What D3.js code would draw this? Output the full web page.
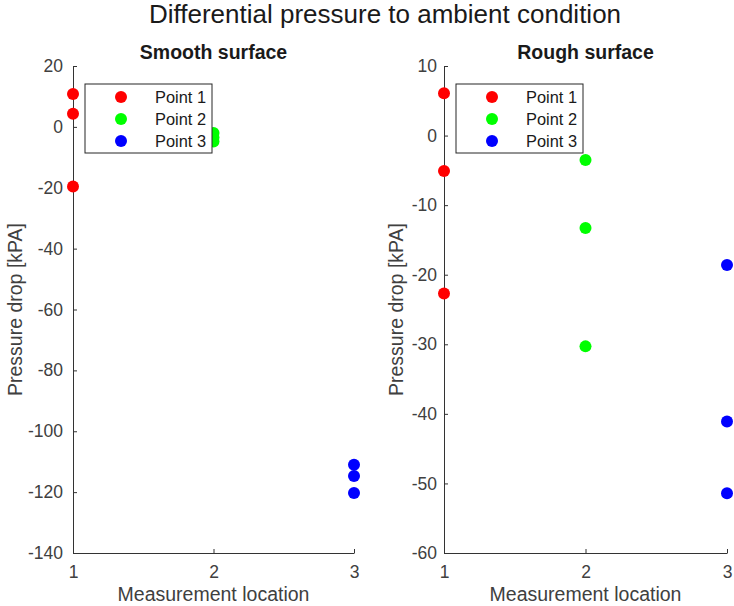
<!DOCTYPE html>
<html>
<head>
<meta charset="utf-8">
<script src="https://cdn.jsdelivr.net/npm/d3@7"></script>
<style>
  body { margin: 0; background: #fff; }
  svg { font-family: "Liberation Sans", Arial, sans-serif; }
  .tick text { fill: #404040; font-size: 17.5px; }
  .domain, .tick line { stroke: #333; }
</style>
</head>
<body>
<svg width="734" height="606"></svg>
<script>
// measurement locations and series
const locations = [1, 2, 3];
const seriesNames = ['Point 1', 'Point 2', 'Point 3'];
const seriesColors = ['#ff0000', '#00ff00', '#0000ff'];

// values, per series (location = series index + 1)
const smoothP1 = [10.8, 4.3, -19.6];
const smoothP2 = [-2.0, -3.5, -4.8];
const smoothP3 = [-111, -114.7, -120.3];
const roughP1 = [6.1, -5.1, -22.7];
const roughP2 = [-3.5, -13.3, -30.3];
const roughP3 = [-18.6, -41.1, -51.4];

const smoothTicks = [20, 0, -20, -40, -60, -80, -100, -120, -140];
const roughTicks = [10, 0, -10, -20, -30, -40, -50, -60];

const panels = [
  {title: 'Smooth surface', series: [smoothP1, smoothP2, smoothP3], domain: [-140, 20], ticks: smoothTicks,
   left: 73, right: 354, labelPad: 10, ylabelX: 15, legend: {x: 85, w: 127}},
  {title: 'Rough surface', series: [roughP1, roughP2, roughP3], domain: [-60, 10], ticks: roughTicks,
   left: 444, right: 727, labelPad: 7, ylabelX: 396, legend: {x: 456, w: 127}}
];

const plotTop = 66, plotBottom = 553;
const svg = d3.select('svg');

svg.append('text')
  .attr('x', 385).attr('y', 23)
  .attr('text-anchor', 'middle')
  .attr('font-size', 26)
  .attr('fill', '#1a1a1a')
  .text('Differential pressure to ambient condition');

panels.forEach(p => {
  const x = d3.scaleLinear().domain([1, 3]).range([p.left, p.right]);
  const y = d3.scaleLinear().domain(p.domain).range([plotBottom, plotTop]);
  const g = svg.append('g');

  g.append('g')
    .attr('transform', 'translate(0,' + plotBottom + ')')
    .call(d3.axisBottom(x).tickValues(locations).tickFormat(d => String(d))
      .tickSizeInner(-4).tickSizeOuter(0).tickPadding(13));

  g.append('g')
    .attr('transform', 'translate(' + p.left + ',0)')
    .call(d3.axisLeft(y).tickValues(p.ticks).tickFormat(d => String(d))
      .tickSizeInner(-4).tickSizeOuter(0).tickPadding(p.labelPad));

  const mid = (p.left + p.right) / 2;
  g.append('text')
    .attr('x', mid).attr('y', 59)
    .attr('text-anchor', 'middle')
    .attr('font-size', 19.5).attr('font-weight', 'bold')
    .attr('fill', '#1a1a1a')
    .text(p.title);

  g.append('text')
    .attr('x', mid).attr('y', 601)
    .attr('text-anchor', 'middle')
    .attr('font-size', 19.5).attr('fill', '#404040')
    .text('Measurement location');

  g.append('text')
    .attr('transform', 'translate(' + p.ylabelX + ',' + (plotTop + plotBottom) / 2 + ') rotate(-90)')
    .attr('text-anchor', 'middle')
    .attr('dy', '0.35em')
    .attr('font-size', 19.5).attr('fill', '#404040')
    .text('Pressure drop [kPA]');

  // points, drawn before legend so legend box sits on top
  p.series.forEach((vals, i) => {
    g.selectAll('.pt' + i)
      .data(vals)
      .enter()
      .append('circle')
      .attr('cx', x(locations[i]))
      .attr('cy', d => y(d))
      .attr('r', 6)
      .attr('fill', seriesColors[i]);
  });

  // legend
  const lg = g.append('g').attr('transform', 'translate(' + p.legend.x + ',84)');
  lg.append('rect')
    .attr('width', p.legend.w).attr('height', 69)
    .attr('fill', '#fff').attr('stroke', '#262626').attr('stroke-width', 1);
  seriesNames.forEach((name, i) => {
    lg.append('circle')
      .attr('cx', 36).attr('cy', 13 + i * 22)
      .attr('r', 6).attr('fill', seriesColors[i]);
    lg.append('text')
      .attr('x', p.legend.w - 6).attr('y', 13 + i * 22)
      .attr('dy', '0.35em')
      .attr('text-anchor', 'end')
      .attr('font-size', 16.4).attr('fill', '#1a1a1a')
      .text(name);
  });
});
</script>
</body>
</html>
